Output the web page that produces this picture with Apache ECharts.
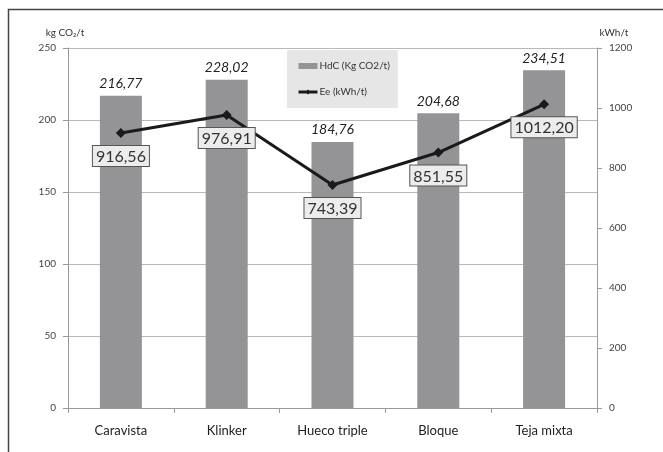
<!DOCTYPE html>
<html>
<head>
<meta charset="utf-8">
<script src="https://cdn.jsdelivr.net/npm/echarts@6/dist/echarts.min.js"></script>
<style>
  html, body { margin: 0; padding: 0; background: #fff; }
  #chart { width: 663px; height: 452px; }
</style>
</head>
<body>
<div id="chart"></div>
<script>
// Materials compared
const categories = ['Caravista', 'Klinker', 'Hueco triple', 'Bloque', 'Teja mixta'];
// Carbon footprint, kg CO2 per tonne
const hdcValues = [216.77, 228.02, 184.76, 204.68, 234.51];
// Embodied energy, kWh per tonne
const eeValues = [916.56, 976.91, 743.39, 851.55, 1012.20];
// Axis ranges
const leftAxisTicks = { min: 0, max: 250, interval: 50 };
const rightAxisTicks = { min: 0, max: 1200, interval: 200 };

const FONT = 'Lato, "Open Sans", sans-serif';
const commaDecimal = v => v.toFixed(2).replace('.', ',');

const chart = echarts.init(document.getElementById('chart'), null, { renderer: 'canvas' });

chart.setOption({
  animation: false,
  backgroundColor: '#ffffff',
  textStyle: { fontFamily: FONT },
  grid: { left: 68, right: 66, top: 48, bottom: 44, containLabel: false },
  graphic: [
    {
      type: 'polyline',
      shape: { points: [[8.5, 452], [8.5, 9.5], [663, 9.5]] },
      style: { stroke: '#444', lineWidth: 1.5, fill: null },
      z: 0
    }
  ],
  legend: {
    orient: 'vertical',
    left: 287,
    top: 50,
    backgroundColor: '#e6e6e6',
    padding: [11, 8, 11, 10],
    itemGap: 16,
    itemWidth: 19,
    itemHeight: 6,
    textStyle: { fontSize: 10, color: '#333', fontFamily: FONT, padding: [0, 0, 0, -3] },
    data: [
      { name: 'HdC (Kg CO2/t)', icon: 'rect' },
      { name: 'Ee (kWh/t)', lineStyle: { width: 3, color: '#1a1a1a' } }
    ]
  },
  xAxis: {
    type: 'category',
    data: categories,
    axisLine: { lineStyle: { color: '#999' } },
    axisTick: { show: true, length: 5, lineStyle: { color: '#999' } },
    axisLabel: { fontSize: 13, color: '#222', margin: 16, fontFamily: FONT }
  },
  yAxis: [
    {
      type: 'value',
      min: leftAxisTicks.min,
      max: leftAxisTicks.max,
      interval: leftAxisTicks.interval,
      name: 'kg CO₂/t',
      nameLocation: 'end',
      nameGap: 10,
      nameTextStyle: { fontSize: 10, color: '#333', align: 'center', padding: [0, 0, 0, -6] },
      axisLine: { show: true, lineStyle: { color: '#999' } },
      axisTick: { show: true, length: 5, lineStyle: { color: '#999' } },
      axisLabel: { fontSize: 10, color: '#444', margin: 12, formatter: v => String(v) },
      splitLine: { show: true, lineStyle: { color: '#b8b8b8', width: 1 } }
    },
    {
      type: 'value',
      min: rightAxisTicks.min,
      max: rightAxisTicks.max,
      interval: rightAxisTicks.interval,
      name: 'kWh/t',
      nameLocation: 'end',
      nameGap: 10,
      nameTextStyle: { fontSize: 10, color: '#333', align: 'center', padding: [0, 0, 0, 34] },
      axisLine: { show: true, lineStyle: { color: '#999' } },
      axisTick: { show: true, length: 5, lineStyle: { color: '#999' } },
      axisLabel: { fontSize: 10, color: '#444', margin: 12, formatter: v => String(v) },
      splitLine: { show: false }
    }
  ],
  series: [
    {
      name: 'HdC (Kg CO2/t)',
      type: 'bar',
      yAxisIndex: 0,
      data: hdcValues,
      barWidth: 42,
      itemStyle: { color: '#949497' },
      label: {
        show: true,
        position: 'top',
        distance: 5,
        fontSize: 14,
        fontStyle: 'italic',
        color: '#222',
        fontFamily: FONT,
        formatter: p => commaDecimal(p.value)
      },
      z: 2
    },
    {
      name: 'Ee (kWh/t)',
      type: 'line',
      yAxisIndex: 1,
      data: eeValues,
      symbol: 'diamond',
      symbolSize: 10,
      lineStyle: { color: '#1a1a1a', width: 3 },
      itemStyle: { color: '#1a1a1a' },
      label: {
        show: true,
        position: 'bottom',
        distance: 8,
        fontSize: 16,
        color: '#333',
        fontFamily: FONT,
        backgroundColor: '#ececec',
        borderColor: '#555',
        borderWidth: 1,
        padding: [3, 3, 1, 3],
        formatter: p => commaDecimal(p.value)
      },
      z: 5
    }
  ]
});
</script>
</body>
</html>
